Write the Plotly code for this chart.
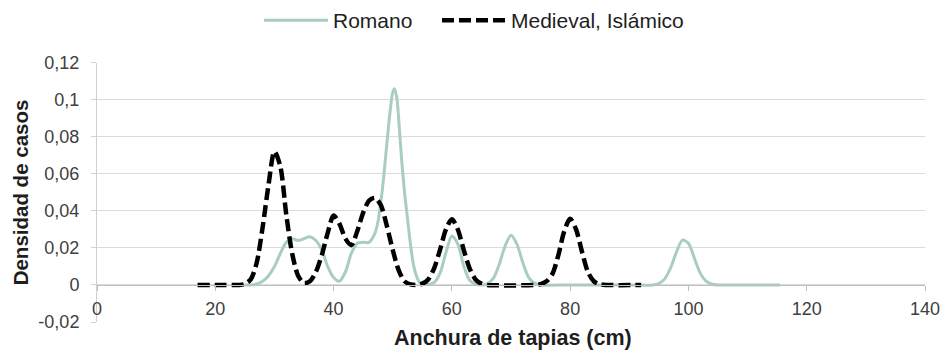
import plotly.graph_objects as go

# Kernel density of wall widths (cm) for two periods
romano_x = [25, 26, 27, 28, 29, 30, 31, 32, 33, 34,
            35, 36, 37, 38, 39, 40, 41, 42, 43, 44,
            45, 46, 47, 47.5, 48, 48.5, 49, 49.5, 50, 50.3,
            50.7, 51, 51.5, 52, 52.5, 53, 53.5, 54, 54.5, 55,
            56, 57, 58, 59, 60, 61, 62, 63, 64, 65,
            66, 67, 68, 69, 70, 71, 72, 73, 74, 75,
            80, 90, 94, 95, 96, 97, 98, 99, 100, 101,
            102, 103, 104, 105, 110, 115.5]
romano_y = [0, 0, 0.0005, 0.002, 0.005, 0.010, 0.017, 0.023, 0.025, 0.024,
            0.025, 0.026, 0.024, 0.019, 0.010, 0.004, 0.002, 0.007, 0.017, 0.0225,
            0.023, 0.023, 0.028, 0.034, 0.045, 0.059, 0.076, 0.092, 0.104, 0.106,
            0.101, 0.090, 0.068, 0.050, 0.036, 0.022, 0.011, 0.005, 0.0015, 0.0005,
            0.0003, 0.0013, 0.0064, 0.0175, 0.0265, 0.0222, 0.0103, 0.0026, 0.0004, 0,
            0.0006, 0.0035, 0.011, 0.021, 0.0268, 0.022, 0.012, 0.004, 0.001, 0,
            0, 0, 0, 0.0008, 0.0033, 0.0093, 0.018, 0.0242, 0.0225, 0.0145,
            0.0064, 0.002, 0.0004, 0, 0, 0]

medieval_x = [17, 20, 24, 25, 26, 27, 28, 29, 30, 31,
              32, 33, 34, 35, 36, 37, 38, 39, 40, 41,
              42, 43, 44, 45, 46, 47, 48, 49, 50, 51,
              52, 53, 54, 55, 56, 57, 58, 59, 60, 61,
              62, 63, 64, 65, 66, 74, 75, 76, 77, 78,
              79, 80, 81, 82, 83, 84, 85, 86, 92]
medieval_y = [0, 0, 0, 0.0005, 0.003, 0.012, 0.031, 0.054, 0.072, 0.064,
              0.038, 0.017, 0.005, 0.001, 0.002, 0.007, 0.016, 0.028, 0.0375, 0.033,
              0.025, 0.0215, 0.029, 0.039, 0.0455, 0.047, 0.043, 0.032, 0.019, 0.008,
              0.002, 0.0003, 0, 0.0007, 0.003, 0.009, 0.019, 0.030, 0.0355, 0.030,
              0.019, 0.009, 0.003, 0.0007, 0, 0, 0.0005, 0.002, 0.006, 0.016,
              0.029, 0.0357, 0.030, 0.018, 0.007, 0.002, 0.0004, 0, 0]

x_ticks = [0, 20, 40, 60, 80, 100, 120, 140]
y_ticks = [-0.02, 0, 0.02, 0.04, 0.06, 0.08, 0.1, 0.12]
y_tick_text = ["-0,02", "0", "0,02", "0,04", "0,06", "0,08", "0,1", "0,12"]

FONT = "Liberation Sans, Arial, sans-serif"
TEXT = "#404040"
DARK = "#1E1E1E"
GRID = "#DCDCDC"

fig = go.Figure()
fig.add_trace(go.Scatter(
    x=romano_x, y=romano_y, mode="lines", name="Romano", legend="legend",
    line=dict(color="#A9CDC4", width=3, shape="spline", smoothing=0.8),
))
fig.add_trace(go.Scatter(
    x=medieval_x, y=medieval_y, mode="lines", name="Medieval, Islámico", legend="legend2",
    line=dict(color="#000000", width=4.5, dash="12px,5px", shape="spline", smoothing=0.8),
))

y_min, y_max = -0.02, 0.12
zero_pos = (0 - y_min) / (y_max - y_min)

legend_style = dict(
    orientation="h", xref="container", yref="container",
    xanchor="left", y=1.0, yanchor="top",
    font=dict(size=21, color=DARK), itemwidth=64,
    bgcolor="rgba(0,0,0,0)",
)

fig.update_layout(
    width=952, height=353,
    margin=dict(l=97, r=22, t=61, b=31),
    paper_bgcolor="white", plot_bgcolor="white",
    font=dict(family=FONT, color=TEXT, size=18),
    showlegend=True,
    legend=dict(legend_style, x=259 / 952),
    legend2=dict(legend_style, x=437 / 952),
    xaxis=dict(
        range=[0, 140], tickvals=x_ticks, ticktext=[str(v) for v in x_ticks],
        anchor="free", position=zero_pos,
        showline=True, linecolor="#BFBFBF", linewidth=1,
        ticks="outside", ticklen=5, tickcolor="#BFBFBF",
        showgrid=False, zeroline=False, ticklabelstandoff=2,
        tickfont=dict(size=18, color=TEXT),
    ),
    yaxis=dict(
        range=[y_min, y_max], tickvals=y_ticks, ticktext=y_tick_text,
        showline=True, linecolor="#D0D0D0", linewidth=1,
        ticks="outside", ticklen=5, tickcolor="#D0D0D0",
        showgrid=True, gridcolor=GRID, gridwidth=1,
        zeroline=False, ticklabelstandoff=8,
        tickfont=dict(size=18, color=TEXT),
    ),
    annotations=[
        dict(text="<b>Anchura de tapias (cm)</b>", xref="paper", yref="paper",
             x=0.502, y=0, xanchor="center", yanchor="middle", yshift=-16,
             showarrow=False, font=dict(size=21.5, color=DARK, family=FONT)),
        dict(text="<b>Densidad de casos</b>", xref="paper", yref="paper",
             x=0, y=0.5, xanchor="center", yanchor="middle", xshift=-77,
             textangle=-90, showarrow=False,
             font=dict(size=20.5, color=DARK, family=FONT)),
    ],
)

fig.write_html("out.html")
